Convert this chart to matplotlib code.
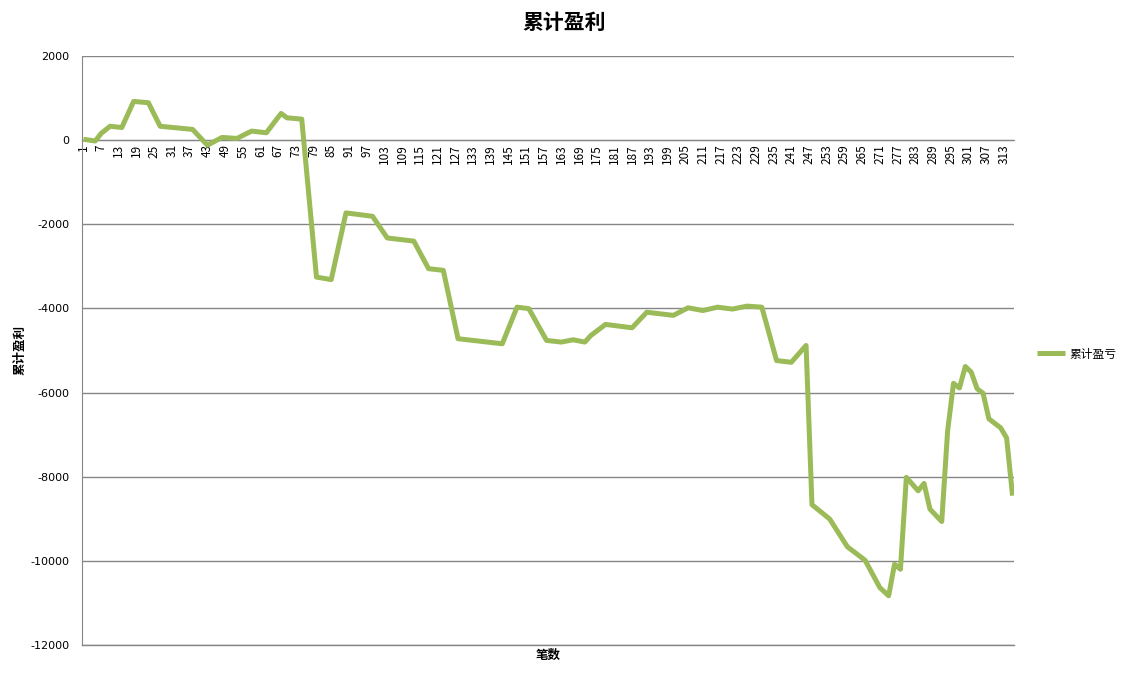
import matplotlib
matplotlib.use("Agg")
import matplotlib.pyplot as plt
import numpy as np

plt.rcParams['font.family'] = ['Noto Sans CJK SC', 'DejaVu Sans']

# trade number and cumulative profit at the turning points of the curve
trades = [1, 5, 7, 10, 14, 18, 23, 27, 38, 43, 48, 53, 58, 63, 68, 70, 75,
          80, 85, 90, 99, 104, 113, 118, 123, 128, 143, 148, 152, 158, 163,
          167, 171, 173, 178, 187, 192, 201, 206, 211, 216, 221, 226, 231,
          236, 241, 246, 248, 254, 260, 266, 271, 274, 276, 278, 280, 284,
          286, 288, 292, 294, 296, 298, 300, 302, 304, 306, 308, 312, 314, 316]
profit = [20, -20, 160, 330, 300, 920, 890, 330, 255, -120, 65, 40, 215, 175,
          635, 530, 500, -3255, -3315, -1730, -1810, -2325, -2400, -3055,
          -3095, -4720, -4840, -3970, -4005, -4760, -4800, -4745, -4800,
          -4645, -4380, -4460, -4090, -4165, -3985, -4050, -3970, -4015,
          -3945, -3970, -5240, -5280, -4880, -8665, -9005, -9665, -9985,
          -10635, -10830, -10080, -10200, -8015, -8335, -8160, -8770, -9065,
          -6905, -5780, -5890, -5380, -5515, -5910, -6015, -6625, -6840,
          -7080, -8450]
n_trades = 316
x_ticks = list(range(1, n_trades + 1, 6))
y_ticks = list(range(-12000, 2001, 2000))


def main():
    fig = plt.figure(figsize=(11.22, 6.74), dpi=100)
    ax = fig.add_axes([82 / 1122, 1 - 645 / 674, 932 / 1122, 589 / 674])

    line, = ax.plot(trades, profit, color='#9BBB59', lw=3.6,
                    solid_joinstyle='round', solid_capstyle='butt', zorder=3)

    ax.set_xlim(0.5, n_trades + 0.5)
    ax.set_ylim(-12000, 2000)
    ax.set_yticks(y_ticks)
    ax.set_xticks(x_ticks)
    ax.set_xticklabels([str(t) for t in x_ticks])
    ax.set_yticklabels([str(t) for t in y_ticks])
    ax.tick_params(axis='both', length=0)
    ax.tick_params(axis='x', labelrotation=90, pad=3, labelsize=8.5)
    ax.tick_params(axis='y', pad=9, labelsize=8)
    for lab in ax.get_xticklabels() + ax.get_yticklabels():
        lab.set_family('DejaVu Sans')

    for s in ['top', 'right']:
        ax.spines[s].set_visible(False)
    ax.spines['bottom'].set_position(('data', 0))
    ax.spines['bottom'].set_color('#868686')
    ax.spines['left'].set_color('#868686')
    ax.grid(axis='y', color='#868686', lw=1)
    ax.axhline(-12000, color='#868686', lw=1, clip_on=False, zorder=1)
    ax.set_axisbelow(True)

    fig.text(564 / 1122, 1 - 22 / 674, '累计盈利', ha='center', va='center',
             fontsize=15, fontweight='bold')
    fig.text(20 / 1122, 1 - 350 / 674, '累计盈利', ha='center', va='center',
             rotation=90, fontsize=9, fontweight='bold')
    fig.text(548 / 1122, 1 - 655 / 674, '笔数', ha='center', va='center',
             fontsize=9, fontweight='bold')

    fig.legend([line], ['累计盈亏'], loc='center left',
               bbox_to_anchor=(1026 / 1122, 1 - 354 / 674), frameon=False,
               handlelength=2.4, handletextpad=0.4, fontsize=8.5)

    fig.savefig('out.png', dpi=100)


if __name__ == '__main__':
    main()
